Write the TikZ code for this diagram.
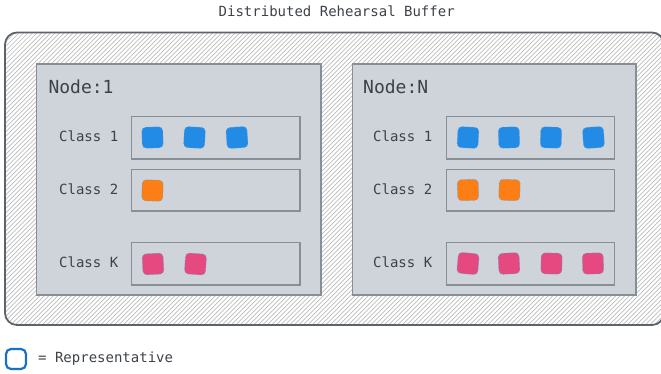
\documentclass[tikz,border=0pt]{standalone}
\usepackage{fontspec}
\setmonofont{DejaVu Sans Mono}
\definecolor{cblue}{HTML}{228BE6}
\definecolor{corange}{HTML}{FD7E14}
\definecolor{cpink}{HTML}{E64980}
\definecolor{boxfill}{HTML}{CED4DA}
\definecolor{boxline}{HTML}{868E96}
\definecolor{outline}{HTML}{5C636A}
\definecolor{hatch}{HTML}{BDBDBD}
\definecolor{txt}{HTML}{3D4248}
\definecolor{repline}{HTML}{1971C2}
\begin{document}
\begin{tikzpicture}[x=1pt,y=-1pt,
  nodebox/.style={draw=boxline,fill=boxfill,line width=1.3pt},
  rowbox/.style={draw=boxline,fill=boxfill,line width=1.2pt},
  item/.style={minimum size=21pt,inner sep=0pt,rounded corners=4pt,draw=repline!70,densely dotted,line width=0.6pt},
  bigtxt/.style={font=\ttfamily\fontsize{18}{20}\selectfont,text=txt,inner sep=0pt},
  smalltxt/.style={font=\ttfamily\fontsize{14}{16}\selectfont,text=txt,inner sep=0pt}]
\useasboundingbox (0,0) rectangle (661,373);
% title
\node[smalltxt,anchor=base] (title) at (336.7,16.7) {Distributed Rehearsal Buffer};
% outer hatched frame
\begin{scope}
\clip[rounded corners=12pt] (5,32.5) rectangle (664,325);
\fill[white] (5,32.5) rectangle (664,325);
\foreach \i in {0,...,220}{
  \draw[hatch,line width=0.7pt] ({-300+4.5*\i},325) -- ++(300,-300);
}
\end{scope}
\draw[outline,line width=1.8pt,rounded corners=12pt] (5,32.5) rectangle (664,325);
\coordinate (frame) at (5,32.5);
% Node 1
\draw[nodebox] (36.7,64) rectangle (321,295);
\node[bigtxt,anchor=base west] (n1label) at (48.3,93.3) {Node:1};
\draw[rowbox] (131.7,116.7) rectangle (300,159);
\draw[rowbox] (131.7,169.3) rectangle (300,211);
\draw[rowbox] (131.7,242.3) rectangle (300,285);
\node[smalltxt,anchor=base west] (n1c1) at (59,141.7) {Class 1};
\node[smalltxt,anchor=base west] (n1c2) at (59,194) {Class 2};
\node[smalltxt,anchor=base west] (n1ck) at (59,267.3) {Class K};
\node[item,fill=cblue,rotate=2] (n1b1) at (152.5,137.5) {};
\node[item,fill=cblue,rotate=-3] (n1b2) at (194.5,137.5) {};
\node[item,fill=cblue,rotate=4] (n1b3) at (237,137.5) {};
\node[item,fill=corange,rotate=-2] (n1o1) at (152.5,190.5) {};
\node[item,fill=cpink,rotate=3] (n1p1) at (153,264) {};
\node[item,fill=cpink,rotate=-4] (n1p2) at (195.5,264) {};
% Node N
\draw[nodebox] (352.3,64) rectangle (636,295);
\node[bigtxt,anchor=base west] (nNlabel) at (363,93.3) {Node:N};
\draw[rowbox] (446.5,116.7) rectangle (614.3,159);
\draw[rowbox] (446.5,169.3) rectangle (614.3,211);
\draw[rowbox] (446.5,242.3) rectangle (614.3,285);
\node[smalltxt,anchor=base west] (nNc1) at (373,141.7) {Class 1};
\node[smalltxt,anchor=base west] (nNc2) at (373,194) {Class 2};
\node[smalltxt,anchor=base west] (nNck) at (373,267.3) {Class K};
\node[item,fill=cblue,rotate=-3] (nNb1) at (468,137.5) {};
\node[item,fill=cblue,rotate=2] (nNb2) at (509,137.5) {};
\node[item,fill=cblue,rotate=-2] (nNb3) at (551,137.5) {};
\node[item,fill=cblue,rotate=4] (nNb4) at (593.5,137.5) {};
\node[item,fill=corange,rotate=2] (nNo1) at (468,190) {};
\node[item,fill=corange,rotate=-2] (nNo2) at (509.5,190) {};
\node[item,fill=cpink,rotate=-5] (nNp1) at (468,263.5) {};
\node[item,fill=cpink,rotate=3] (nNp2) at (509,263.5) {};
\node[item,fill=cpink,rotate=-1] (nNp3) at (551.5,263.5) {};
\node[item,fill=cpink,rotate=2] (nNp4) at (593,263.5) {};
% legend
\node[draw=repline,line width=2.2pt,fill=white,rounded corners=5pt,minimum size=20pt,inner sep=0pt] (legbox) at (16,359) {};
\node[smalltxt,anchor=base west] (legtxt) at (38,362.3) {= Representative};
\end{tikzpicture}
\end{document}
